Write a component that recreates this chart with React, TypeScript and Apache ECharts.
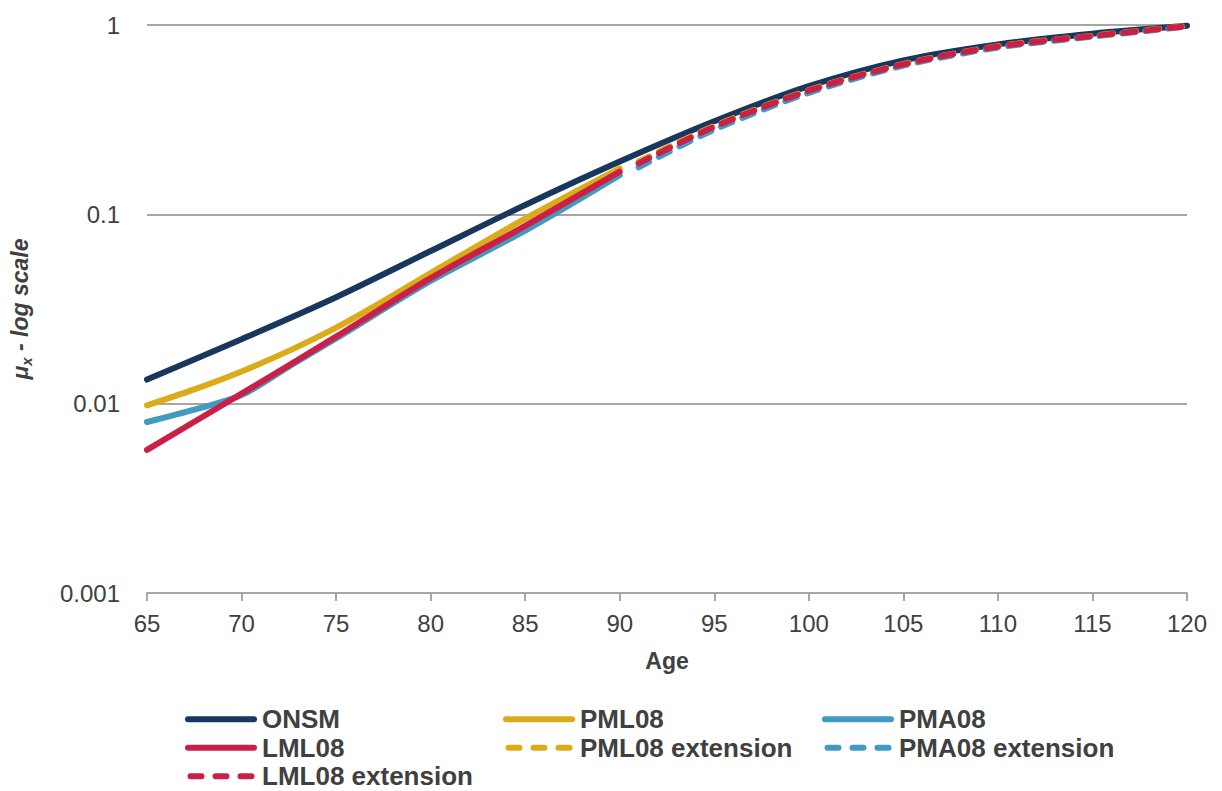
import React, { useEffect, useRef } from "react";
import * as echarts from "echarts";

const onsmAges = [65, 70, 75, 80, 85, 90, 95, 100, 105, 110, 115, 120];
const onsmVals = [0.0134, 0.0219, 0.0365, 0.064, 0.112, 0.19, 0.31, 0.475, 0.65, 0.79, 0.9, 0.99];

const pmlAges = [65, 67.5, 70, 72.5, 75, 77.5, 80, 85, 90];
const pmlVals = [0.0098, 0.0119, 0.0148, 0.019, 0.0252, 0.0348, 0.049, 0.095, 0.175];

const pmaAges = [65, 67.5, 70, 72.5, 75, 80, 85, 90];
const pmaVals = [0.008, 0.0093, 0.0111, 0.0157, 0.0221, 0.0445, 0.082, 0.161];

const lmlAges = [65, 70, 75, 80, 85, 90];
const lmlVals = [0.0057, 0.0113, 0.0226, 0.046, 0.087, 0.168];

const extAges = [91, 95, 100, 105, 110, 115, 120];
const pmlExtVals = [0.19, 0.293, 0.453, 0.623, 0.773, 0.878, 0.987];
const pmaExtVals = [0.177, 0.28, 0.438, 0.61, 0.76, 0.868, 0.98];
const lmlExtVals = [0.186, 0.29, 0.45, 0.62, 0.77, 0.875, 0.985];

const xTicks = { min: 65, max: 120, step: 5 };
const yTicks = { min: 0.001, max: 1 };

const NAVY = "#17375e";
const GOLD = "#dcab19";
const BLUE = "#419ac0";
const RED = "#cb1f48";
const TEXT = "#404040";
const GRID = "#a6a6a6";
const FONT = "'Liberation Sans', Arial, sans-serif";

const SOLID_ICON = "path://M3,0H69A3,3 0 0 1 69,6H3A3,3 0 0 1 3,0Z";
const DASH_ICON =
  "path://M3,0H14A3,3 0 0 1 14,6H3A3,3 0 0 1 3,0Z" +
  "M28,0H39A3,3 0 0 1 39,6H28A3,3 0 0 1 28,0Z" +
  "M53,0H64A3,3 0 0 1 64,6H53A3,3 0 0 1 53,0Z";

const pairs = (a: number[], v: number[]) => a.map((x, i) => [x, v[i]]);

export default function App() {
  const ref = useRef<HTMLDivElement>(null);
  useEffect(() => {
    document.body.style.margin = "0";
    const chart = echarts.init(ref.current!, null, { renderer: "svg" });
    const solid = (name: string, color: string, data: number[][]) => ({
      name,
      type: "line",
      data,
      smooth: 0.3,
      symbol: "none",
      lineStyle: { color, width: 6, cap: "round" },
      itemStyle: { color },
    });
    const dashed = (name: string, color: string, data: number[][]) => ({
      name,
      type: "line",
      data,
      smooth: 0.3,
      symbol: "none",
      lineStyle: { color, width: 6, type: [12, 11], cap: "round" },
      itemStyle: { color },
    });
    const legendBase = {
      orient: "vertical",
      top: 705,
      height: 200,
      itemWidth: 72,
      itemHeight: 6,
      itemGap: 0,
      textStyle: { color: TEXT, fontSize: 26, fontWeight: "bold", fontFamily: FONT, lineHeight: 28.5 },
      padding: 0,
    };
    const item = (name: string, dashedIcon = false) => ({ name, icon: dashedIcon ? DASH_ICON : SOLID_ICON });
    chart.setOption({
      animation: false,
      textStyle: { fontFamily: FONT },
      grid: { left: 147, right: 35, top: 25, bottom: 198 },
      legend: [
        { ...legendBase, left: 185, data: [item("ONSM"), item("LML08"), item("LML08 extension", true)] },
        { ...legendBase, left: 503, data: [item("PML08"), item("PML08 extension", true)] },
        { ...legendBase, left: 822, data: [item("PMA08"), item("PMA08 extension", true)] },
      ],
      xAxis: {
        type: "value",
        min: xTicks.min,
        max: xTicks.max,
        interval: xTicks.step,
        name: "Age",
        nameLocation: "middle",
        nameGap: 56,
        nameTextStyle: { color: TEXT, fontSize: 23, fontWeight: "bold", fontFamily: FONT },
        axisLine: { show: true, lineStyle: { color: GRID, width: 2 } },
        axisTick: { show: true, length: 8, lineStyle: { color: GRID, width: 2 } },
        axisLabel: { color: TEXT, fontSize: 24, margin: 18, fontFamily: FONT },
        splitLine: { show: false },
      },
      yAxis: {
        type: "log",
        logBase: 10,
        min: yTicks.min,
        max: yTicks.max,
        name: "{a|μ}{s|x}{a| - log scale}",
        nameLocation: "middle",
        nameRotate: 90,
        nameGap: 113,
        nameTextStyle: {
          rich: {
            a: { fontSize: 23, fontWeight: "bold", fontStyle: "italic", color: TEXT, fontFamily: FONT, lineHeight: 28 },
            s: { fontSize: 15, fontWeight: "bold", fontStyle: "italic", color: TEXT, fontFamily: FONT, lineHeight: 16, verticalAlign: "bottom" },
          },
        },
        axisLine: { show: false },
        axisTick: { show: false },
        axisLabel: { color: TEXT, fontSize: 24, margin: 27, fontFamily: FONT },
        splitLine: { show: true, lineStyle: { color: GRID, width: 2 } },
      },
      series: [
        solid("ONSM", NAVY, pairs(onsmAges, onsmVals)),
        solid("PML08", GOLD, pairs(pmlAges, pmlVals)),
        solid("PMA08", BLUE, pairs(pmaAges, pmaVals)),
        solid("LML08", RED, pairs(lmlAges, lmlVals)),
        dashed("PMA08 extension", BLUE, pairs(extAges, pmaExtVals)),
        dashed("PML08 extension", GOLD, pairs(extAges, pmlExtVals)),
        dashed("LML08 extension", RED, pairs(extAges, lmlExtVals)),
      ],
    });
    return () => chart.dispose();
  }, []);
  return <div ref={ref} style={{ width: 1222, height: 791 }} />;
}
